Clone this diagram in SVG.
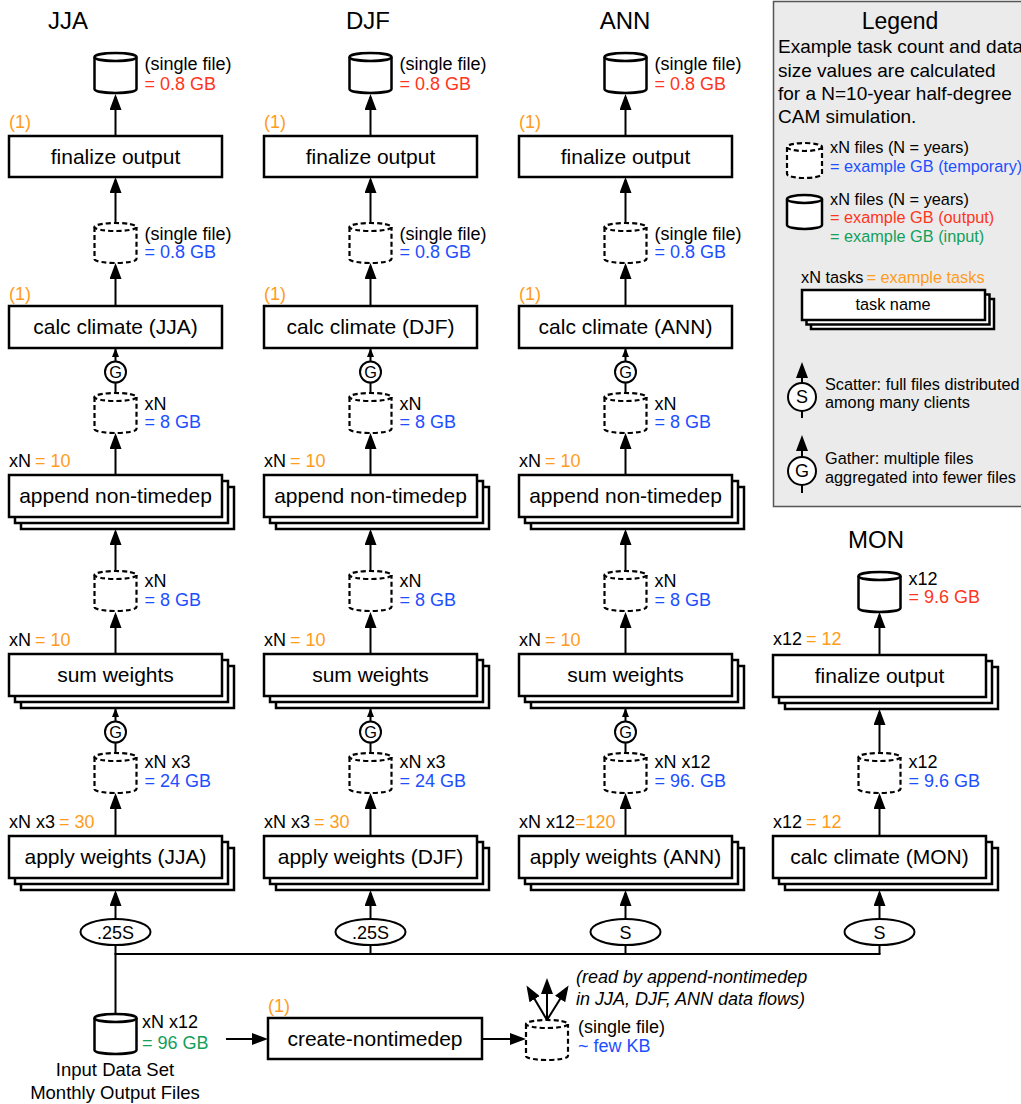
<svg xmlns="http://www.w3.org/2000/svg" width="1021" height="1104" viewBox="0 0 1021 1104">
<style>
text{font-family:"Liberation Sans",Arial,Helvetica,sans-serif;fill:#000}
.ti{font-size:24px;text-anchor:middle}
.bl{font-size:21px;text-anchor:middle}
.an{font-size:18px}
.lg{font-size:16.3px}
.lp{font-size:19px}
.c{text-anchor:middle}
.red{fill:#ff3520}
.blu{fill:#1d4eff}
.grn{fill:#12a05a}
.org{fill:#ff9c1c}
.box{fill:#fff;stroke:#000;stroke-width:2.5}
.cyl{fill:#fff;stroke:#000;stroke-width:2.5}
.dash{fill:#fff;stroke:#000;stroke-width:2.2;stroke-dasharray:5 3}
.ln{fill:none;stroke:#000;stroke-width:2}
.circ{fill:#fff;stroke:#000;stroke-width:2}
</style>
<defs>
<marker id="ah" viewBox="0 0 16 12" refX="13" refY="6" markerWidth="16" markerHeight="12" orient="auto" markerUnits="userSpaceOnUse"><path d="M0,0 L16,6 L0,12 z" fill="#000"/></marker>
<marker id="sh" viewBox="0 0 9 7" refX="8" refY="3.5" markerWidth="9" markerHeight="7" orient="auto" markerUnits="userSpaceOnUse"><path d="M0,0 L9,3.5 L0,7 z" fill="#000"/></marker>
<g id="cylS"><path class="cyl" d="M-21,4 V36 A21,4 0 0 0 21,36 V4"/><ellipse class="cyl" cx="0" cy="4" rx="21" ry="4"/></g>
<g id="cylD"><path class="dash" d="M-21,4 V36 A21,4 0 0 0 21,36 V4"/><ellipse class="dash" cx="0" cy="4" rx="21" ry="4"/></g>
<g id="stack"><rect class="box" x="12" y="12" width="213" height="42"/><rect class="box" x="6" y="6" width="213" height="42"/><rect class="box" x="0" y="0" width="213" height="42"/></g>
</defs>
<rect width="1021" height="1104" fill="#fff"/>

<!-- Legend -->
<g id="legend">
<rect x="773.5" y="1.5" width="262" height="505" fill="#ebebeb" stroke="#555" stroke-width="1.5"/>
<text x="900" y="29" style="font-size:23px" class="c">Legend</text>
<text x="778" y="53" class="lp">Example task count and data</text>
<text x="778" y="77" class="lp">size values are calculated</text>
<text x="778" y="100" class="lp">for a N=10-year half-degree</text>
<text x="778" y="123" class="lp">CAM simulation.</text>
<path class="dash" d="M787,147 V174 A17.5,4 0 0 0 822,174 V147"/><ellipse class="dash" cx="804.5" cy="147" rx="17.5" ry="4"/>
<text x="830" y="153" class="lg">xN files (N = years)</text>
<text x="830" y="172" class="lg blu">= example GB (temporary)</text>
<path class="cyl" d="M787,199 V225 A17.5,4 0 0 0 822,225 V199"/><ellipse class="cyl" cx="804.5" cy="199" rx="17.5" ry="4"/>
<text x="830" y="205" class="lg">xN files (N = years)</text>
<text x="830" y="223" class="lg red">= example GB (output)</text>
<text x="830" y="242" class="lg grn">= example GB (input)</text>
<text x="801" y="283" class="lg">xN tasks<tspan class="org" dx="3">= example tasks</tspan></text>
<rect class="box" x="811" y="299" width="183" height="30"/>
<rect class="box" x="806.5" y="294.5" width="183" height="30"/>
<rect class="box" x="802" y="290" width="183" height="30"/>
<text x="893" y="310" class="lg c">task name</text>
<line class="ln" x1="802" y1="383" x2="802" y2="365" marker-end="url(#ah)"/>
<circle class="circ" cx="802" cy="397" r="14"/>
<line class="ln" x1="802" y1="411" x2="802" y2="418"/>
<text x="802" y="403" class="an c">S</text>
<text x="825" y="390" class="lg">Scatter: full files distributed</text>
<text x="825" y="408" class="lg">among many clients</text>
<line class="ln" x1="802" y1="457" x2="802" y2="438" marker-end="url(#ah)"/>
<circle class="circ" cx="802" cy="471" r="14"/>
<line class="ln" x1="802" y1="485" x2="802" y2="493"/>
<text x="802" y="477" class="an c">G</text>
<text x="825" y="464" class="lg">Gather: multiple files</text>
<text x="825" y="483" class="lg">aggregated into fewer files</text>
</g>

<!-- Connectors -->
<g id="connectors">
<!-- JJA -->
<line class="ln" x1="115.5" y1="136" x2="115.5" y2="97" marker-end="url(#ah)"/>
<line class="ln" x1="115.5" y1="223" x2="115.5" y2="180" marker-end="url(#ah)"/>
<line class="ln" x1="115.5" y1="306" x2="115.5" y2="266" marker-end="url(#ah)"/>
<line class="ln" x1="115.5" y1="361.5" x2="115.5" y2="349" marker-end="url(#sh)"/>
<line class="ln" x1="115.5" y1="382.5" x2="115.5" y2="393"/>
<line class="ln" x1="115.5" y1="475" x2="115.5" y2="436" marker-end="url(#ah)"/>
<line class="ln" x1="115.5" y1="571" x2="115.5" y2="532" marker-end="url(#ah)"/>
<line class="ln" x1="115.5" y1="654" x2="115.5" y2="615" marker-end="url(#ah)"/>
<line class="ln" x1="115.5" y1="721.5" x2="115.5" y2="709" marker-end="url(#sh)"/>
<line class="ln" x1="115.5" y1="742.5" x2="115.5" y2="753"/>
<line class="ln" x1="115.5" y1="836" x2="115.5" y2="796" marker-end="url(#ah)"/>
<line class="ln" x1="115.5" y1="919" x2="115.5" y2="893" marker-end="url(#ah)"/>
<line class="ln" x1="115.5" y1="945" x2="115.5" y2="1014"/>
<!-- DJF -->
<line class="ln" x1="370.5" y1="136" x2="370.5" y2="97" marker-end="url(#ah)"/>
<line class="ln" x1="370.5" y1="223" x2="370.5" y2="180" marker-end="url(#ah)"/>
<line class="ln" x1="370.5" y1="306" x2="370.5" y2="266" marker-end="url(#ah)"/>
<line class="ln" x1="370.5" y1="361.5" x2="370.5" y2="349" marker-end="url(#sh)"/>
<line class="ln" x1="370.5" y1="382.5" x2="370.5" y2="393"/>
<line class="ln" x1="370.5" y1="475" x2="370.5" y2="436" marker-end="url(#ah)"/>
<line class="ln" x1="370.5" y1="571" x2="370.5" y2="532" marker-end="url(#ah)"/>
<line class="ln" x1="370.5" y1="654" x2="370.5" y2="615" marker-end="url(#ah)"/>
<line class="ln" x1="370.5" y1="721.5" x2="370.5" y2="709" marker-end="url(#sh)"/>
<line class="ln" x1="370.5" y1="742.5" x2="370.5" y2="753"/>
<line class="ln" x1="370.5" y1="836" x2="370.5" y2="796" marker-end="url(#ah)"/>
<line class="ln" x1="370.5" y1="919" x2="370.5" y2="893" marker-end="url(#ah)"/>
<line class="ln" x1="370.5" y1="945" x2="370.5" y2="954"/>
<!-- ANN -->
<line class="ln" x1="625.5" y1="136" x2="625.5" y2="97" marker-end="url(#ah)"/>
<line class="ln" x1="625.5" y1="223" x2="625.5" y2="180" marker-end="url(#ah)"/>
<line class="ln" x1="625.5" y1="306" x2="625.5" y2="266" marker-end="url(#ah)"/>
<line class="ln" x1="625.5" y1="361.5" x2="625.5" y2="349" marker-end="url(#sh)"/>
<line class="ln" x1="625.5" y1="382.5" x2="625.5" y2="393"/>
<line class="ln" x1="625.5" y1="475" x2="625.5" y2="436" marker-end="url(#ah)"/>
<line class="ln" x1="625.5" y1="571" x2="625.5" y2="532" marker-end="url(#ah)"/>
<line class="ln" x1="625.5" y1="654" x2="625.5" y2="615" marker-end="url(#ah)"/>
<line class="ln" x1="625.5" y1="721.5" x2="625.5" y2="709" marker-end="url(#sh)"/>
<line class="ln" x1="625.5" y1="742.5" x2="625.5" y2="753"/>
<line class="ln" x1="625.5" y1="836" x2="625.5" y2="796" marker-end="url(#ah)"/>
<line class="ln" x1="625.5" y1="919" x2="625.5" y2="893" marker-end="url(#ah)"/>
<line class="ln" x1="625.5" y1="945" x2="625.5" y2="954"/>
<!-- MON -->
<line class="ln" x1="879.5" y1="655" x2="879.5" y2="615" marker-end="url(#ah)"/>
<line class="ln" x1="879.5" y1="753" x2="879.5" y2="712" marker-end="url(#ah)"/>
<line class="ln" x1="879.5" y1="836" x2="879.5" y2="796" marker-end="url(#ah)"/>
<line class="ln" x1="879.5" y1="919" x2="879.5" y2="893" marker-end="url(#ah)"/>
<line class="ln" x1="879.5" y1="945" x2="879.5" y2="954"/>
<!-- distribution bus -->
<line class="ln" x1="114.5" y1="954" x2="880.5" y2="954"/>
<!-- bottom -->
<line class="ln" x1="226" y1="1039" x2="265" y2="1039" marker-end="url(#ah)"/>
<line class="ln" x1="482" y1="1039" x2="523" y2="1039" marker-end="url(#ah)"/>
<line class="ln" x1="547" y1="1020" x2="528" y2="988" marker-end="url(#ah)"/>
<line class="ln" x1="547" y1="1020" x2="547" y2="981" marker-end="url(#ah)"/>
<line class="ln" x1="547" y1="1020" x2="567" y2="988" marker-end="url(#ah)"/>
</g>

<!-- JJA column -->
<g id="jja-title"><text x="68" y="29" class="ti">JJA</text></g>
<g id="jja-out"><use href="#cylS" x="115.5" y="53"/><text x="144.5" y="70" class="an">(single file)</text><text x="144.5" y="90" class="an red">= 0.8 GB</text></g>
<g id="jja-finalize"><text x="9" y="128" class="an org">(1)</text><rect class="box" x="9" y="136" width="213" height="41"/><text x="115.5" y="164" class="bl">finalize output</text></g>
<g id="jja-clim-file"><use href="#cylD" x="115.5" y="223"/><text x="144.5" y="240" class="an">(single file)</text><text x="144.5" y="258" class="an blu">= 0.8 GB</text></g>
<g id="jja-calc"><text x="9" y="300" class="an org">(1)</text><rect class="box" x="9" y="306" width="213" height="42"/><text x="115.5" y="334" class="bl">calc climate (JJA)</text></g>
<g id="jja-g1"><circle class="circ" cx="115.5" cy="372" r="10.5"/><text x="115.5" y="378" class="lg c">G</text></g>
<g id="jja-f1"><use href="#cylD" x="115.5" y="393"/><text x="144.5" y="410" class="an">xN</text><text x="144.5" y="428" class="an blu">= 8 GB</text></g>
<g id="jja-append"><text x="9" y="467" class="an">xN<tspan class="org" dx="4">= 10</tspan></text><use href="#stack" x="9" y="475"/><text x="115.5" y="503" class="bl">append non-timedep</text></g>
<g id="jja-f2"><use href="#cylD" x="115.5" y="571"/><text x="144.5" y="587" class="an">xN</text><text x="144.5" y="606" class="an blu">= 8 GB</text></g>
<g id="jja-sum"><text x="9" y="646" class="an">xN<tspan class="org" dx="4">= 10</tspan></text><use href="#stack" x="9" y="654"/><text x="115.5" y="682" class="bl">sum weights</text></g>
<g id="jja-g2"><circle class="circ" cx="115.5" cy="732" r="10.5"/><text x="115.5" y="738" class="lg c">G</text></g>
<g id="jja-f3"><use href="#cylD" x="115.5" y="753"/><text x="144.5" y="768" class="an">xN x3</text><text x="144.5" y="787" class="an blu">= 24 GB</text></g>
<g id="jja-apply"><text x="9" y="828" class="an">xN x3<tspan class="org" dx="4">= 30</tspan></text><use href="#stack" x="9" y="836"/><text x="115.5" y="864" class="bl">apply weights (JJA)</text></g>
<g id="jja-scatter"><ellipse class="circ" cx="115.5" cy="932" rx="35" ry="13"/><text x="115.5" y="939" class="an c">.25S</text></g>

<!-- DJF column -->
<g id="djf-title"><text x="368" y="29" class="ti">DJF</text></g>
<g id="djf-out"><use href="#cylS" x="370.5" y="53"/><text x="399.5" y="70" class="an">(single file)</text><text x="399.5" y="90" class="an red">= 0.8 GB</text></g>
<g id="djf-finalize"><text x="264" y="128" class="an org">(1)</text><rect class="box" x="264" y="136" width="213" height="41"/><text x="370.5" y="164" class="bl">finalize output</text></g>
<g id="djf-clim-file"><use href="#cylD" x="370.5" y="223"/><text x="399.5" y="240" class="an">(single file)</text><text x="399.5" y="258" class="an blu">= 0.8 GB</text></g>
<g id="djf-calc"><text x="264" y="300" class="an org">(1)</text><rect class="box" x="264" y="306" width="213" height="42"/><text x="370.5" y="334" class="bl">calc climate (DJF)</text></g>
<g id="djf-g1"><circle class="circ" cx="370.5" cy="372" r="10.5"/><text x="370.5" y="378" class="lg c">G</text></g>
<g id="djf-f1"><use href="#cylD" x="370.5" y="393"/><text x="399.5" y="410" class="an">xN</text><text x="399.5" y="428" class="an blu">= 8 GB</text></g>
<g id="djf-append"><text x="264" y="467" class="an">xN<tspan class="org" dx="4">= 10</tspan></text><use href="#stack" x="264" y="475"/><text x="370.5" y="503" class="bl">append non-timedep</text></g>
<g id="djf-f2"><use href="#cylD" x="370.5" y="571"/><text x="399.5" y="587" class="an">xN</text><text x="399.5" y="606" class="an blu">= 8 GB</text></g>
<g id="djf-sum"><text x="264" y="646" class="an">xN<tspan class="org" dx="4">= 10</tspan></text><use href="#stack" x="264" y="654"/><text x="370.5" y="682" class="bl">sum weights</text></g>
<g id="djf-g2"><circle class="circ" cx="370.5" cy="732" r="10.5"/><text x="370.5" y="738" class="lg c">G</text></g>
<g id="djf-f3"><use href="#cylD" x="370.5" y="753"/><text x="399.5" y="768" class="an">xN x3</text><text x="399.5" y="787" class="an blu">= 24 GB</text></g>
<g id="djf-apply"><text x="264" y="828" class="an">xN x3<tspan class="org" dx="4">= 30</tspan></text><use href="#stack" x="264" y="836"/><text x="370.5" y="864" class="bl">apply weights (DJF)</text></g>
<g id="djf-scatter"><ellipse class="circ" cx="370.5" cy="932" rx="35" ry="13"/><text x="370.5" y="939" class="an c">.25S</text></g>

<!-- ANN column -->
<g id="ann-title"><text x="625" y="29" class="ti">ANN</text></g>
<g id="ann-out"><use href="#cylS" x="625.5" y="53"/><text x="654.5" y="70" class="an">(single file)</text><text x="654.5" y="90" class="an red">= 0.8 GB</text></g>
<g id="ann-finalize"><text x="519" y="128" class="an org">(1)</text><rect class="box" x="519" y="136" width="213" height="41"/><text x="625.5" y="164" class="bl">finalize output</text></g>
<g id="ann-clim-file"><use href="#cylD" x="625.5" y="223"/><text x="654.5" y="240" class="an">(single file)</text><text x="654.5" y="258" class="an blu">= 0.8 GB</text></g>
<g id="ann-calc"><text x="519" y="300" class="an org">(1)</text><rect class="box" x="519" y="306" width="213" height="42"/><text x="625.5" y="334" class="bl">calc climate (ANN)</text></g>
<g id="ann-g1"><circle class="circ" cx="625.5" cy="372" r="10.5"/><text x="625.5" y="378" class="lg c">G</text></g>
<g id="ann-f1"><use href="#cylD" x="625.5" y="393"/><text x="654.5" y="410" class="an">xN</text><text x="654.5" y="428" class="an blu">= 8 GB</text></g>
<g id="ann-append"><text x="519" y="467" class="an">xN<tspan class="org" dx="4">= 10</tspan></text><use href="#stack" x="519" y="475"/><text x="625.5" y="503" class="bl">append non-timedep</text></g>
<g id="ann-f2"><use href="#cylD" x="625.5" y="571"/><text x="654.5" y="587" class="an">xN</text><text x="654.5" y="606" class="an blu">= 8 GB</text></g>
<g id="ann-sum"><text x="519" y="646" class="an">xN<tspan class="org" dx="4">= 10</tspan></text><use href="#stack" x="519" y="654"/><text x="625.5" y="682" class="bl">sum weights</text></g>
<g id="ann-g2"><circle class="circ" cx="625.5" cy="732" r="10.5"/><text x="625.5" y="738" class="lg c">G</text></g>
<g id="ann-f3"><use href="#cylD" x="625.5" y="753"/><text x="654.5" y="768" class="an">xN x12</text><text x="654.5" y="787" class="an blu">= 96. GB</text></g>
<g id="ann-apply"><text x="519" y="828" class="an">xN x12<tspan class="org">=120</tspan></text><use href="#stack" x="519" y="836"/><text x="625.5" y="864" class="bl">apply weights (ANN)</text></g>
<g id="ann-scatter"><ellipse class="circ" cx="625.5" cy="932" rx="35" ry="13"/><text x="625.5" y="939" class="an c">S</text></g>

<!-- MON column -->
<g id="mon-title"><text x="876" y="548" class="ti">MON</text></g>
<g id="mon-out"><use href="#cylS" x="879.5" y="572"/><text x="908.5" y="585" class="an">x12</text><text x="908.5" y="603" class="an red">= 9.6 GB</text></g>
<g id="mon-finalize"><text x="773" y="645" class="an">x12<tspan class="org" dx="4">= 12</tspan></text><use href="#stack" x="773" y="655"/><text x="879.5" y="683" class="bl">finalize output</text></g>
<g id="mon-f1"><use href="#cylD" x="879.5" y="753"/><text x="908.5" y="768" class="an">x12</text><text x="908.5" y="787" class="an blu">= 9.6 GB</text></g>
<g id="mon-calc"><text x="773" y="828" class="an">x12<tspan class="org" dx="4">= 12</tspan></text><use href="#stack" x="773" y="836"/><text x="879.5" y="864" class="bl">calc climate (MON)</text></g>
<g id="mon-scatter"><ellipse class="circ" cx="879.5" cy="932" rx="35" ry="13"/><text x="879.5" y="939" class="an c">S</text></g>

<!-- Bottom -->
<g id="input"><use href="#cylS" x="115.5" y="1014"/><text x="142" y="1028" class="an">xN x12</text><text x="142" y="1049" class="an grn">= 96 GB</text><text x="115" y="1076" class="an c" style="font-size:18.5px">Input Data Set</text><text x="115" y="1099" class="an c" style="font-size:18.5px">Monthly Output Files</text></g>
<g id="create-nontimedep"><text x="268" y="1012" class="an org">(1)</text><rect class="box" x="268" y="1018" width="214" height="41"/><text x="375" y="1046" class="bl">create-nontimedep</text></g>
<g id="nontimedep-file"><use href="#cylD" x="547" y="1020"/><text x="578" y="1033" class="an">(single file)</text><text x="578" y="1052" class="an blu">~ few KB</text><text x="576" y="983" class="an" font-style="italic">(read by append-nontimedep</text><text x="576" y="1005" class="an" font-style="italic">in JJA, DJF, ANN data flows)</text></g>
</svg>
